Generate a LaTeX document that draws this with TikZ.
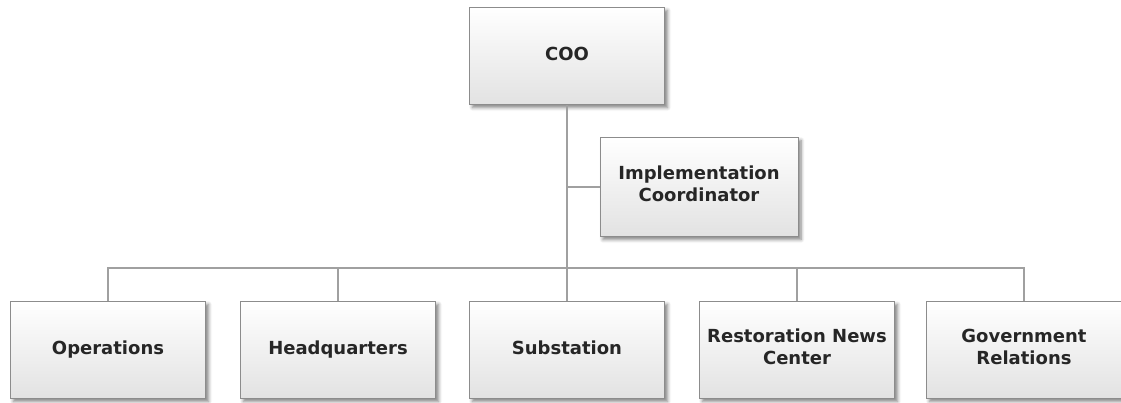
\documentclass[tikz,border=0pt]{standalone}
\usepackage{fontspec}
\setmainfont{DejaVu Sans}
\usetikzlibrary{shadows.blur}
\definecolor{boxline}{HTML}{8C8C8C}
\definecolor{wire}{HTML}{A0A0A0}
\definecolor{boxbottom}{HTML}{E2E2E2}
\tikzset{
  orgbox/.style={draw=boxline, line width=1pt, top color=white, bottom color=boxbottom,
    minimum width=195pt, minimum height=97pt, align=center,
    font=\fontsize{18pt}{22pt}\selectfont\bfseries, text=black!85,
    execute at begin node=\strut,
    blur shadow={shadow xshift=3pt, shadow yshift=-3pt, shadow blur radius=3.5pt,
      shadow blur steps=6, shadow opacity=50}},
  wireline/.style={draw=wire, line width=1.6pt}
}
\begin{document}
\begin{tikzpicture}[x=1pt, y=-1pt]
\useasboundingbox (0,0) rectangle (1121,402);
% top and staff positions
\node[orgbox] (coo) at (567,56) {COO};
\node[orgbox, minimum width=198pt, minimum height=99pt] (impl) at (699,187) {Implementation\\Coordinator};
% department row
\node[orgbox] (ops) at (108,350) {Operations};
\node[orgbox] (hq)  at (338,350) {Headquarters};
\node[orgbox] (sub) at (567,350) {Substation};
\node[orgbox] (rnc) at (797,350) {Restoration News\\Center};
\node[orgbox] (gov) at (1024,350) {Government\\Relations};
% connector junctions
\coordinate (bus) at (567,268);
\coordinate (staff) at (567,187);
\begin{scope}[on background layer/.try]
\draw[wireline] (coo.south) -- (sub.north);
\draw[wireline] (staff) -- (impl.west);
\draw[wireline] (ops.north) |- (bus) -| (gov.north);
\draw[wireline] (hq.north) -- (hq.north |- bus);
\draw[wireline] (rnc.north) -- (rnc.north |- bus);
\end{scope}
\end{tikzpicture}
\end{document}
